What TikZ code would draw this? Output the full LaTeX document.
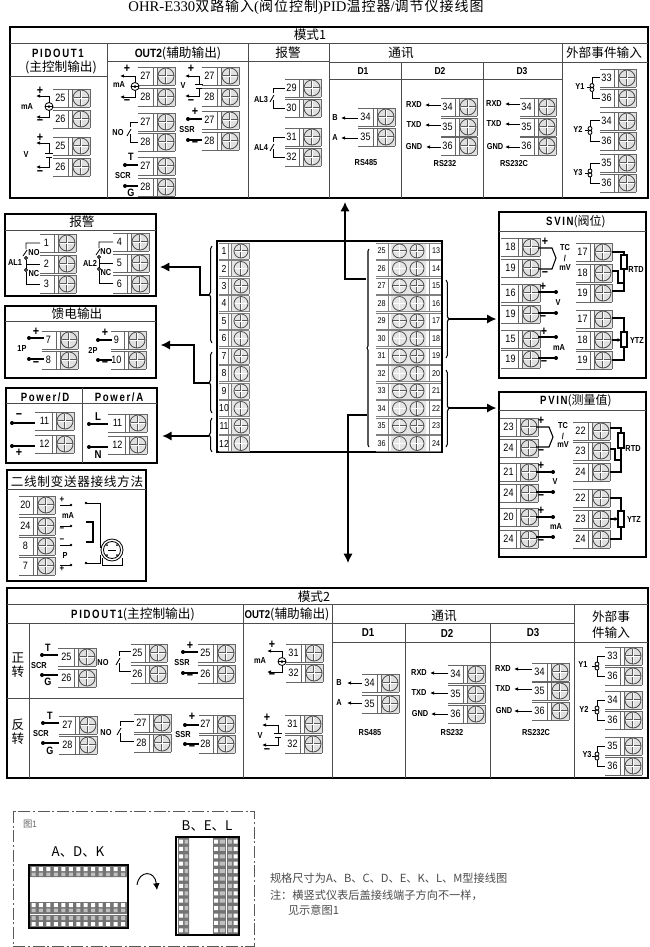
\documentclass[tikz,border=0pt]{standalone}
\usepackage{fontspec}
\setmainfont{Liberation Sans}[FakeStretch=0.85]
\newfontfamily\cjk{Noto Sans CJK SC}
\newfontfamily\serifT{Liberation Serif}
\newfontfamily\spaced{Liberation Sans}[FakeStretch=0.8,LetterSpace=14]
\usetikzlibrary{arrows.meta,decorations.pathreplacing}
\newcommand{\nm}{\fontsize{8}{8}\selectfont}
\newcommand{\nms}{\fontsize{6.3}{6.3}\selectfont}
\newcommand{\sml}{\fontsize{6.5}{6.5}\selectfont\bfseries}
\newcommand{\pmf}{\fontsize{9.5}{9.5}\selectfont\bfseries}
\newcommand{\hd}{\fontsize{9.5}{9.5}\selectfont\cjk}
\newcommand{\hdl}{\fontsize{9}{9}\selectfont\bfseries\spaced}
\newcommand{\hdm}{\fontsize{8.6}{8.6}\selectfont\bfseries}
\newcommand{\tcj}[1]{{\fontsize{10.5}{10.5}\selectfont\cjk\addfontfeature{LetterSpace=7}#1}}
\newcount\lblc
\newcommand{\lab}[4][\nm]{\global\advance\lblc by 1\relax\node[font=#1] (L\the\lblc) at (#2,#3) {#4};}
% screw: cx cy r
\newcommand{\screw}[3]{%
  \draw[line width=1.25pt,black!65,line cap=butt] (#1-#3+.5,#2)--(#1+#3-.5,#2) (#1,#2-#3+.5)--(#1,#2+#3-.5);
  \draw[line width=.55pt,white] (#1-#3,#2)--(#1+#3,#2) (#1,#2-#3)--(#1,#2+#3);
  \draw[line width=.6pt,black!70] (#1,#2) circle[x radius=#3,y radius=#3];
}
% terminal: len, bar x, centre y, number
\newcommand{\term}[4][15]{%
  \fill[black!12] (#2+4,#3-9) rectangle (#2+22,#3+9);
  \draw[tline] (#2-#1,#3-9)--(#2+22,#3-9) (#2-#1,#3+9)--(#2+22,#3+9);
  \draw[tline] (#2,#3-9)--(#2,#3+9) (#2+4,#3-9)--(#2+4,#3+9) (#2+22,#3-9)--(#2+22,#3+9);
  \screw{#2+13}{#3}{8}
  \lab{#2-7.5}{#3}{#4}
}
\newcommand{\srcMA}[5]{% xv y1 y2 xtip xterm
  \draw[wire,{Latex[length=3pt,width=2.6pt]}-{Latex[length=3pt,width=2.6pt]}] (#4,#2)--(#1,#2)--(#1,#3)--(#4,#3);
  \draw[wire] (#1,{(#2+#3)/2})--(#5,{(#2+#3)/2});
  \draw[wire,fill=white] (#1,{(#2+#3)/2}) circle[x radius=4,y radius=4];
  \draw[wire] (#1-4,{(#2+#3)/2})--(#1+4,{(#2+#3)/2});
  \fill (#1,{(#2+#3)/2}) circle[x radius=1.5,y radius=1.5];
}
\newcommand{\srcV}[4]{% xv y1 y2 xtip
  \draw[wire,{Latex[length=3pt,width=2.6pt]}-] (#4,#2)--(#1,#2)--(#1,{(#2+#3)/2-2});
  \draw[wire,{Latex[length=3pt,width=2.6pt]}-] (#4,#3)--(#1,#3)--(#1,{(#2+#3)/2+2});
  \draw[wire] (#1-4,{(#2+#3)/2-2})--(#1+4,{(#2+#3)/2-2}) (#1-3,{(#2+#3)/2+2})--(#1+3,{(#2+#3)/2+2});
}
\newcommand{\sw}[4]{% xv y1 y2 xr
  \draw[wire] (#4,#2)--(#1,#2)--(#1,{(#2+#3)/2-5});
  \draw[wire] (#1-3,{(#2+#3)/2+4})--(#1+1,{(#2+#3)/2-3});
  \draw[wire] (#1,{(#2+#3)/2+2})--(#1,#3)--(#4,#3);
}
\newcommand{\dotl}[3]{% xd y xe
  \fill (#1,#2) circle[x radius=2,y radius=2];
  \draw[line width=.9pt] (#1,#2)--(#3,#2);
}
\newcommand{\ysw}[4]{% xv y1 y2 xr
  \draw[wire] (#4,#2)--(#1,#2)--(#1,{(#2+#3)/2-4});
  \draw[wire] (#1,{(#2+#3)/2+4})--(#1,#3)--(#4,#3);
  \draw[wire] (#1,{(#2+#3)/2-2}) circle[x radius=2,y radius=2] (#1,{(#2+#3)/2+2}) circle[x radius=2,y radius=2];
  \draw[wire] (#1-5,{(#2+#3)/2})--(#1-2,{(#2+#3)/2});
}
\newcommand{\panel}[5]{% name x1 y1 x2 y2
  \pgfmathsetmacro\pw{(#4-#2)*0.75}\pgfmathsetmacro\ph{(#5-#3)*0.75}
  \node[framebox,minimum width=\pw pt,minimum height=\ph pt,anchor=north west] (#1) at (#2,#3) {};
}
\newcommand{\aline}[3]{% tip x, x end, y
  \draw[wire,-{Latex[length=3pt,width=2.6pt]}] (#2,#3)--(#1,#3);
}
\tikzset{
  every node/.style={inner sep=0pt,outer sep=0pt},
  tline/.style={line width=.6pt,black!60},
  wire/.style={line width=.62pt,black},
  framebox/.style={draw=black,line width=1.2pt},
  div/.style={line width=.6pt,black!70},
  mainl/.style={line width=1.1pt,black},
  mainarrow/.style={line width=1.1pt,black,-{Latex[length=7pt,width=7pt]}},
  brc/.style={line width=.8pt,decorate,decoration={brace,amplitude=2pt}},
  rwire/.style={line width=.8pt,black}
}
\begin{document}
\begin{tikzpicture}[x=0.75pt,y=-0.75pt]
\useasboundingbox (0,0) rectangle (650,947);
\fill[white] (0,0) rectangle (650,947);
% title
\lab[\fontsize{11}{11}\selectfont\serifT]{306}{7}{OHR-E330\tcj{双路输入}(\tcj{阀位控制})PID\tcj{温控器}/\tcj{调节仪接线图}}
%% ---------- MODE 1
\panel{modeA}{10}{27}{648}{198}
\draw[div] (10,43)--(648,43)
 (107,43)--(107,198) (248,43)--(248,198) (329,43)--(329,198) (562,43)--(562,198)
 (10,76)--(107,76) (107,61)--(329,61) (329,62)--(648,62) (329,79)--(562,79)
 (401,62)--(401,198) (483,62)--(483,198);
\lab[\hd]{310}{35}{模式1}
\lab[\hdl]{58}{53}{PIDOUT1}
\lab[\hd]{61}{67}{(主控制输出)}
\lab[\hd]{178}{53}{{\fontsize{9}{9}\selectfont\bfseries\rmfamily OUT2}(辅助输出)}
\lab[\hd]{288}{53}{报警}
\lab[\hd]{401}{53}{通讯}
\lab[\hd]{604}{53}{外部事件输入}
\lab[\sml\fontsize{7.5}{7.5}\selectfont]{363}{71}{D1}
\lab[\sml\fontsize{7.5}{7.5}\selectfont]{440}{71}{D2}
\lab[\sml\fontsize{7.5}{7.5}\selectfont]{522}{71}{D3}
% PIDOUT1
\term{68}{98}{25}\term{68}{119}{26}\term{68}{146}{25}\term{68}{167}{26}
\srcMA{49}{96}{117}{36}{53}
\lab[\pmf]{40}{91}{+}\lab[\pmf]{40}{122}{−}\lab[\sml]{27}{107}{mA}
\srcV{49}{143}{167}{36}
\lab[\pmf]{40}{138}{+}\lab[\pmf]{40}{173}{−}\lab[\sml]{26}{155}{V}
% OUT2
\term{153}{76}{27}\term{153}{97}{28}\term{153}{122}{27}\term{153}{142}{28}\term{153}{166}{27}\term{153}{187}{28}
\term{217}{76}{27}\term{217}{97}{28}\term{217}{120}{27}\term{217}{141}{28}
\srcMA{135}{76}{97}{120}{138}
\lab[\pmf]{127}{69}{+}\lab[\pmf]{127}{102}{−}\lab[\sml]{119}{85}{mA}
\srcV{199}{76}{96}{185}
\lab[\pmf]{191}{69}{+}\lab[\pmf]{191}{102}{−}\lab[\sml]{183}{86}{V}
\sw{130}{122}{142}{138}\lab[\sml]{118}{133}{NO}
\dotl{125}{165}{138}\dotl{125}{186}{138}
\lab[\sml\fontsize{8}{8}\selectfont]{131}{157}{T}\lab[\sml\fontsize{8}{8}\selectfont]{131}{193}{G}\lab[\sml]{123}{176}{SCR}
\dotl{188}{119}{202}\dotl{188}{140}{202}
\lab[\pmf]{195}{112}{+}\lab[\pmf]{195}{144}{−}\lab[\sml]{187}{130}{SSR}
% alarm
\term[14]{299}{88}{29}\term[14]{299}{108}{30}\term[14]{299}{137}{31}\term[14]{299}{157}{32}
\sw{273}{88}{108}{285}\sw{273}{137}{157}{285}
\lab[\sml]{261}{100}{AL3}\lab[\sml]{261}{148}{AL4}
% D1
\term{373}{117}{34}\term{373}{137}{35}
\aline{341}{358}{118}\aline{341}{358}{138}
\lab[\sml]{335}{118}{B}\lab[\sml]{335}{138}{A}\lab[\sml]{366}{163}{RS485}
% D2
\term[14]{455}{107}{34}\term[14]{455}{127}{35}\term[14]{455}{146}{36}
\aline{425}{441}{105}\aline{425}{441}{125}\aline{426}{441}{147}
\lab[\sml]{414}{105}{RXD}\lab[\sml]{414}{125}{TXD}\lab[\sml]{414}{147}{GND}\lab[\sml]{445}{164}{RS232}
% D3
\term[14]{534}{107}{34}\term[14]{534}{127}{35}\term[14]{534}{146}{36}
\aline{505}{520}{104}\aline{505}{520}{124}\aline{505}{520}{147}
\lab[\sml]{494}{104}{RXD}\lab[\sml]{494}{124}{TXD}\lab[\sml]{495}{147}{GND}\lab[\sml]{514}{164}{RS232C}
% Ext
\term[14]{614}{78}{33}\term[14]{614}{98}{36}\term[14]{614}{121}{34}\term[14]{614}{141}{36}\term[14]{614}{163}{35}\term[14]{614}{183}{36}
\ysw{592}{77}{98}{600}\ysw{590}{120}{141}{600}\ysw{590}{163}{183}{600}
\lab[\sml]{580}{87}{Y1}\lab[\sml]{578}{129}{Y2}\lab[\sml]{578}{173}{Y3}
%% ---------- left panels
\panel{alarm}{5}{214}{156}{296}
\draw[div] (5,230)--(156,230);
\lab[\hd]{82}{222}{报警}
\term[14]{54}{243}{1}\term[14]{54}{264}{2}\term[14]{54}{284}{3}
\term[14]{127}{242}{4}\term[14]{127}{263}{5}\term[14]{127}{284}{6}
\newcommand{\alsw}[3]{% xv ymid xr
  \draw[wire] (#3,#2-21)--(#1,#2-21)--(#1,#2-15) (#1-3,#2-8)--(#1+1,#2-14);
  \draw[wire] (#1,#2-6) circle[x radius=1.5,y radius=1.5] (#1,#2+6) circle[x radius=1.5,y radius=1.5];
  \draw[wire] (#1,#2-4.5)--(#1,#2+4.5) (#1,#2)--(#3,#2) (#1,#2+8)--(#1,#2+20)--(#3,#2+20);
}
\alsw{26}{264}{40}\alsw{99}{263}{113}
\lab[\sml]{34}{253}{NO}\lab[\sml]{34}{274}{NC}\lab[\sml]{15}{263}{AL1}
\lab[\sml]{106}{252}{NO}\lab[\sml]{106}{273}{NC}\lab[\sml]{90}{263}{AL2}
\panel{feed}{5}{306}{156}{378}
\draw[div] (5,321)--(156,321);
\lab[\hd]{77}{314}{馈电输出}
\term[14]{56}{340}{7}\term[14]{56}{360}{8}\term[13]{124}{340}{9}\term[13]{124}{360}{10}
\dotl{29}{338}{44}\dotl{29}{359}{44}\dotl{98}{340}{112}\dotl{98}{360}{112}
\lab[\pmf]{36}{332}{+}\lab[\pmf]{36}{364}{−}\lab[\pmf]{105}{333}{+}\lab[\pmf]{105}{364}{−}
\lab[\sml]{22}{349}{1P}\lab[\sml]{93}{350}{2P}
\panel{power}{6}{388}{157}{463}
\draw[div] (6,403)--(157,403) (82,388)--(82,463);
\lab[\hdl]{45}{397}{Power/D}\lab[\hdl]{119}{397}{Power/A}
\term[17]{52}{421}{11}\term[17]{52}{444}{12}\term[17]{125}{423}{11}\term[17]{125}{445}{12}
\dotl{12}{423}{35}\dotl{12}{446}{35}\dotl{89}{424}{108}\dotl{89}{447}{108}
\lab[\pmf]{19}{416}{−}\lab[\pmf]{19}{453}{+}
\lab[\sml\fontsize{8.5}{8.5}\selectfont]{98}{417}{L}\lab[\sml\fontsize{8.5}{8.5}\selectfont]{98}{455}{N}
\panel{twowire}{7}{470}{146}{581}
\draw[div] (7,489)--(146,489);
\lab[\hd]{77}{482}{\addfontfeature{LetterSpace=5}二线制变送器接线方法}
\term[14]{33}{505}{20}\term[14]{33}{526}{24}\term[14]{33}{546}{8}\term[14]{33}{566}{7}
\draw[wire] (60,505)--(71,505) (60,526)--(71,526) (60,545)--(71,545) (60,565)--(71,565);
\foreach \yy in {505,526,545,565} \fill (71,\yy) circle[x radius=1.3,y radius=1.3];
\foreach \yy in {503,563} \fill (86,\yy) circle[x radius=1.3,y radius=1.3];
\lab[\fontsize{7}{7}\selectfont\bfseries]{62}{500}{+}\lab[\fontsize{7}{7}\selectfont\bfseries]{62}{530}{−}
\lab[\fontsize{7}{7}\selectfont\bfseries]{62}{541}{−}\lab[\fontsize{7}{7}\selectfont\bfseries]{62}{569}{+}
\lab[\sml]{68}{516}{mA}\lab[\sml]{65}{556}{P}
\draw[wire] (86,503)--(100,503)--(100,548);
\draw[line width=.8pt] (86,522)--(93,522)--(93,542)--(86,542);
\draw[line width=.6pt] (86,563)--(100,563)--(100,555);
\draw[wire] (112,550) circle[x radius=11,y radius=11] (112,550) circle[x radius=8.5,y radius=8.5];
\draw[wire] (102,558)--(102,565)--(122,565)--(122,558);
\draw[wire] (108,550)--(116,550);
\fill (107,545) circle[x radius=1,y radius=1] (117,545) circle[x radius=1,y radius=1] (107,555) circle[x radius=1,y radius=1] (117,555) circle[x radius=1,y radius=1];
%% ---------- central unit
\node[draw=black,line width=1.1pt,minimum width=168.75pt,minimum height=158.25pt,anchor=north west] (unit) at (217,241) {};
\foreach \i in {1,...,12}{
  \pgfmathsetmacro\yy{251+17.5*(\i-1)}
  \pgfmathtruncatemacro\na{\i+24}\pgfmathtruncatemacro\nb{\i+12}
  \fill[black!10] (231,\yy-8) rectangle (249,\yy+8) (391,\yy-8) rectangle (426,\yy+8);
  \draw[tline,black!50] (219,\yy-8)--(249,\yy-8) (219,\yy+8)--(249,\yy+8) (228,\yy-8)--(228,\yy+8) (231,\yy-8)--(231,\yy+8) (249,\yy-8)--(249,\yy+8);
  \screw{241}{\yy}{7}
  \lab[\fontsize{7.6}{7.6}\selectfont]{224}{\yy}{\i}
  \draw[tline,black!50] (376,\yy-8)--(441,\yy-8) (376,\yy+8)--(441,\yy+8) (388,\yy-8)--(388,\yy+8) (429,\yy-8)--(429,\yy+8);
  \screw{399.5}{\yy}{7}\screw{417}{\yy}{7}
  \lab[\nms]{381.5}{\yy}{\na}
  \lab[\nms]{436}{\yy}{\nb}
}
\draw[brc] (212,343)--(212,246);
\draw[brc] (212,413)--(212,352);
\draw[brc] (212,452)--(212,418);
\draw[brc,decoration={brace,amplitude=1.5pt}] (369,447)--(369,249);
\draw[brc] (446,280)--(446,358);
\draw[brc] (446,370)--(446,447);
\coordinate (bA) at (209,295);\coordinate (bB) at (209,383);\coordinate (bC) at (209,436);
\coordinate (jA) at (200,267);\coordinate (jB) at (194,345);
\coordinate (wU) at (366,279);\coordinate (jU) at (345,279);
\coordinate (wD) at (367,415);\coordinate (jD) at (348,415);\coordinate (endD) at (348,563);
\coordinate (bS) at (449,319);\coordinate (bP) at (449,408);
\draw[mainarrow,shorten >=3pt] (bA)-|(jA)--(alarm.east|-jA);
\draw[mainarrow,shorten >=3.5pt] (bB)-|(jB)--(feed.east|-jB);
\draw[mainarrow,shorten >=4pt] (bC)--(power.east|-bC);
\draw[mainarrow,shorten >=3pt] (wU)--(jU)--(jU|-modeA.south);
\draw[mainarrow] (wD)--(jD)--(endD);
%% ---------- SVIN
\panel{svin}{499}{212}{646}{378}
\draw[div] (499,231)--(646,231);
\lab[\hdl]{576}{222}{SVIN{\cjk\mdseries(阀位)}}
\draw[mainarrow,shorten >=2pt] (bS)--(svin.west|-bS);
\term[17]{518}{247}{18}\term[17]{518}{268}{19}\term[17]{518}{293}{16}\term[17]{518}{314}{19}\term[17]{518}{339}{15}\term[17]{518}{359}{19}
\term[14]{590}{252}{17}\term[14]{590}{273}{18}\term[14]{590}{293}{19}\term[14]{590}{319}{17}\term[14]{590}{340}{18}\term[14]{590}{360}{19}
\draw[rwire] (538,248)--(552,248)--(556,258)--(552,269)--(538,269);
\lab[\pmf]{545}{242}{+}\lab[\pmf]{545}{274}{−}
\lab[\sml]{565}{248}{TC}\lab[\sml]{565}{258}{/}\lab[\sml]{565}{268}{mV}
\dotl{556}{292}{538}\dotl{556}{313}{538}\dotl{556}{337}{538}\dotl{556}{358}{538}
\lab[\pmf]{543}{287}{+}\lab[\pmf]{543}{318}{−}\lab[\pmf]{544}{332}{+}\lab[\pmf]{544}{363}{−}
\lab[\sml]{558}{303}{V}\lab[\sml]{559}{348}{mA}
\draw[rwire] (612,252)--(624,252)--(624,255) (624,269)--(624,291)--(612,291) (612,271)--(618,271)--(618,283)--(624,283);
\draw[line width=.9pt,fill=white] (621,255) rectangle (627,269);
\lab[\sml]{636}{270}{RTD}
\draw[rwire] (612,318)--(624,318)--(624,332) (624,347)--(624,360)--(612,360);
\draw[rwire,-{Latex[length=2.5pt,width=3pt]}] (612,340)--(621,340);
\draw[line width=.9pt,fill=white] (621,332) rectangle (627,347);
\lab[\sml]{637}{341}{YTZ}
%% ---------- PVIN
\panel{pvin}{499}{392}{646}{557}
\draw[div] (499,410)--(646,410);
\lab[\hdl]{576}{401}{PVIN{\cjk\mdseries(测量值)}}
\draw[mainarrow,shorten >=2pt] (bP)--(pvin.west|-bP);
\term[16]{516}{427}{23}\term[16]{516}{448}{24}\term[16]{516}{472}{21}\term[16]{516}{493}{24}\term[16]{516}{517}{20}\term[16]{516}{539}{24}
\term[15]{588}{431}{22}\term[15]{588}{451}{23}\term[15]{588}{472}{24}\term[15]{588}{498}{22}\term[15]{588}{519}{23}\term[15]{588}{539}{24}
\draw[rwire] (536,427)--(549,427)--(553,437)--(549,447)--(536,447);
\lab[\pmf]{541}{421}{+}\lab[\pmf]{541}{452}{−}
\lab[\sml]{563}{426}{TC}\lab[\sml]{563}{436}{/}\lab[\sml]{563}{445}{mV}
\dotl{553}{472}{536}\dotl{553}{492}{536}\dotl{553}{517}{536}\dotl{553}{537}{536}
\lab[\pmf]{541}{466}{+}\lab[\pmf]{541}{497}{−}\lab[\pmf]{541}{511}{+}\lab[\pmf]{541}{542}{−}
\lab[\sml]{555}{482}{V}\lab[\sml]{556}{527}{mA}
\draw[rwire] (610,428)--(621,428)--(621,433) (621,448)--(621,472)--(610,472) (610,449)--(615,449)--(615,460)--(621,460);
\draw[line width=.9pt,fill=white] (618,433) rectangle (624,448);
\lab[\sml]{633}{449}{RTD}
\draw[rwire] (610,498)--(621,498)--(621,511) (621,527)--(621,539)--(610,539);
\draw[rwire,-{Latex[length=2.5pt,width=3pt]}] (610,519)--(618,519);
\draw[line width=.9pt,fill=white] (618,511) rectangle (624,527);
\lab[\sml]{634}{520}{YTZ}
%% ---------- MODE 2
\panel{modeB}{7}{588}{648}{778}
\draw[div] (7,604)--(648,604) (7,623)--(332,623) (332,623)--(574,623) (332,642)--(648,642)
 (29,623)--(29,778) (7,698)--(243,698) (243,604)--(243,778) (332,604)--(332,778) (574,604)--(574,778)
 (405,623)--(405,778) (490,623)--(490,778);
\lab[\hd]{314}{597}{模式2}
\lab[\hd]{133}{614}{{\fontsize{9}{9}\selectfont\bfseries\spaced PIDOUT1}(主控制输出)}
\lab[\hd]{287}{614}{{\fontsize{8.5}{8.5}\selectfont\bfseries\rmfamily OUT2}(辅助输出)}
\lab[\hd]{444}{616}{通讯}
\lab[\hdm]{368}{633}{D1}\lab[\hdm]{447}{633}{D2}\lab[\hdm]{533}{633}{D3}
\lab[\hd]{611}{617}{外部事}\lab[\hd]{611}{633}{件输入}
\lab[\hd]{18}{658}{正}\lab[\hd]{18}{672}{转}\lab[\hd]{18}{725}{反}\lab[\hd]{18}{739}{转}
\term[16]{74}{657}{25}\term[16]{74}{678}{26}\term[14]{145}{653}{25}\term[14]{145}{674}{26}\term[15]{213}{653}{25}\term[15]{213}{674}{26}
\term[16]{75}{725}{27}\term[16]{75}{745}{28}\term[15]{149}{723}{27}\term[15]{149}{743}{28}\term[14]{213}{724}{27}\term[14]{213}{744}{28}
\dotl{42}{655}{58}\dotl{42}{675}{58}
\lab[\sml\fontsize{8}{8}\selectfont]{48}{648}{T}\lab[\sml\fontsize{8}{8}\selectfont]{48}{682}{G}\lab[\sml]{39}{666}{SCR}
\sw{119}{651}{671}{131}\lab[\sml]{103}{663}{NO}
\dotl{183}{652}{198}\dotl{183}{673}{198}
\lab[\pmf]{190}{646}{+}\lab[\pmf]{190}{677}{−}\lab[\sml]{182}{663}{SSR}
\dotl{43}{723}{59}\dotl{43}{743}{59}
\lab[\sml\fontsize{8}{8}\selectfont]{50}{716}{T}\lab[\sml\fontsize{8}{8}\selectfont]{50}{751}{G}\lab[\sml]{41}{734}{SCR}
\sw{120}{721}{741}{134}\lab[\sml]{106}{733}{NO}
\dotl{185}{725}{199}\dotl{185}{744}{199}
\lab[\pmf]{192}{717}{+}\lab[\pmf]{192}{748}{−}\lab[\sml]{183}{735}{SSR}
\term{301}{653}{31}\term{301}{673}{32}\term{300}{724}{31}\term{300}{744}{32}
\srcMA{282}{651}{672}{267}{286}
\lab[\pmf]{272}{645}{+}\lab[\pmf]{272}{676}{−}\lab[\sml]{260}{661}{mA}
\srcV{278}{725}{745}{262}
\lab[\pmf]{267}{718}{+}\lab[\pmf]{267}{751}{−}\lab[\sml]{260}{736}{V}
\term{377}{683}{34}\term{377}{704}{35}
\aline{347}{362}{683}\aline{347}{362}{703}
\lab[\sml]{339}{683}{B}\lab[\sml]{339}{703}{A}\lab[\sml]{370}{733}{RS485}
\term{463}{674}{34}\term{463}{694}{35}\term{463}{714}{36}
\aline{430}{448}{673}\aline{430}{448}{693}\aline{431}{448}{714}
\lab[\sml]{419}{673}{RXD}\lab[\sml]{419}{693}{TXD}\lab[\sml]{420}{714}{GND}\lab[\sml]{452}{733}{RS232}
\term{547}{672}{34}\term{547}{691}{35}\term{547}{711}{36}
\aline{514}{532}{669}\aline{514}{532}{689}\aline{514}{532}{711}
\lab[\sml]{503}{669}{RXD}\lab[\sml]{503}{689}{TXD}\lab[\sml]{504}{711}{GND}\lab[\sml]{536}{733}{RS232C}
\term{620}{656}{33}\term{620}{676}{36}\term{620}{700}{34}\term{620}{720}{36}\term{620}{746}{35}\term{620}{766}{36}
\ysw{597}{656}{676}{605}\ysw{597}{700}{720}{605}\ysw{597}{746}{766}{605}
\lab[\sml]{583}{665}{Y1}\lab[\sml]{584}{709}{Y2}\lab[\sml]{587}{755}{Y3}
%% ---------- figure 1
\draw[line width=.5pt,black!65,dash pattern=on 9pt off 2pt on 1.5pt off 2pt] (13,811) rectangle (254,946);
\lab[\fontsize{7}{7}\selectfont\color{black!60}]{30}{824}{{\cjk 图}1}
\lab[\fontsize{10}{10}\selectfont\cjk]{78}{852}{A、D、K}
\lab[\fontsize{10}{10}\selectfont\cjk]{207}{826}{B、E、L}
\node[draw=black,line width=.9pt,minimum width=74.25pt,minimum height=47.25pt,anchor=north west] (devH) at (29,865) {};
\node[draw=black,line width=.9pt,minimum width=47.25pt,minimum height=73.5pt,anchor=north west] (devV) at (176,837) {};
\fill[black!55] (30,866) rectangle (127,877) (30,902) rectangle (127,927);
\fill[white] (30,913.6) rectangle (127,914.6);
\foreach \i in {0,...,12}{
  \pgfmathsetmacro\xx{30+7.46*\i}
  \fill[white] (\xx+1.5,867) rectangle (\xx+5.5,871) (\xx+1.5,903) rectangle (\xx+5.5,907) (\xx+1.5,922) rectangle (\xx+5.5,926);
  \fill[black!25] (\xx+1.5,872.5) rectangle (\xx+5.5,876) (\xx+1.5,908.5) rectangle (\xx+5.5,912) (\xx+1.5,916) rectangle (\xx+5.5,920);
}
\fill[black!55] (178,838) rectangle (189,934) (213,838) rectangle (238,934);
\fill[white] (226,838) rectangle (227,934);
\foreach \i in {0,...,12}{
  \pgfmathsetmacro\yy{838+7.4*\i}
  \fill[white] (179,\yy+1.5) rectangle (183,\yy+5.5) (214,\yy+1.5) rectangle (218,\yy+5.5) (233.5,\yy+1.5) rectangle (237.5,\yy+5.5);
  \fill[black!25] (184.5,\yy+1.5) rectangle (188,\yy+5.5) (219.5,\yy+1.5) rectangle (225,\yy+5.5) (228,\yy+1.5) rectangle (232,\yy+5.5);
}
\draw[line width=.7pt,-{Latex[length=5pt,width=5pt]}] (137,885) .. controls (139,870) and (155,870) .. (157,890);
\node[font=\fontsize{8.4}{8.4}\selectfont\cjk\color{black!70},anchor=west] (noteA) at (270,878) {规格尺寸为A、B、C、D、E、K、L、M型接线图};
\node[font=\fontsize{8.4}{8.4}\selectfont\cjk\color{black!70},anchor=west] (noteB) at (270,895) {注：横竖式仪表后盖接线端子方向不一样，};
\node[font=\fontsize{8.4}{8.4}\selectfont\cjk\color{black!70},anchor=west] (noteC) at (288,910) {见示意图1};
\end{tikzpicture}
\end{document}
